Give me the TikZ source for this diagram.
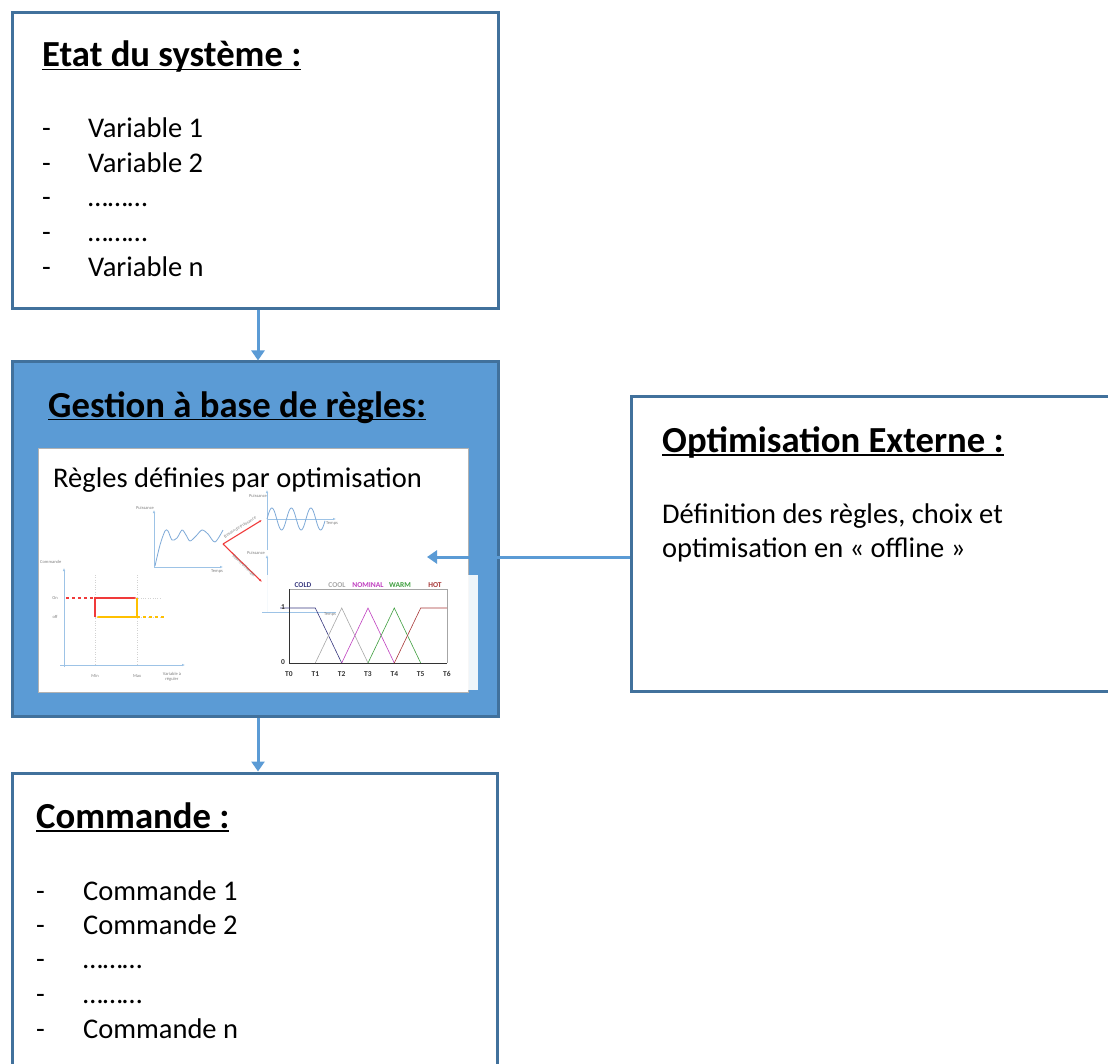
\documentclass[tikz,border=0pt]{standalone}
\usepackage{fontspec}
\setmainfont{Carlito}
\usetikzlibrary{arrows.meta, calc}
\definecolor{boxline}{HTML}{41719C}
\definecolor{fillblue}{HTML}{5B9BD5}
\definecolor{axisblue}{HTML}{9DC3E6}
\definecolor{curveblue}{HTML}{7FAAD8}
\definecolor{redline}{HTML}{F03A3A}
\definecolor{yellowline}{HTML}{FFC000}
\definecolor{coldc}{HTML}{3A3A80}
\definecolor{coolc}{HTML}{A8A8A8}
\definecolor{nominalc}{HTML}{C040C0}
\definecolor{warmc}{HTML}{3F9F3F}
\definecolor{hotc}{HTML}{A83838}
\newcommand{\hdul}[1]{\setbox0\hbox{#1}\rlap{\rule[-3.5pt]{\wd0}{1.8pt}}\box0}

\begin{document}
\begin{tikzpicture}[x=1pt, y=-1pt]
      \tikzset{box/.style = {draw=boxline, line width=3pt, inner sep=0pt}}
      \tikzset{edge/.style = {draw=fillblue, line width=3pt, -{Triangle[width=13pt,length=10pt]}}}
      \tikzset{head/.style = {anchor=base west, inner sep=0pt, font=\fontsize{36.7}{42}\selectfont\bfseries}}
      \tikzset{txt/.style = {anchor=base west, inner sep=0pt, font=\fontsize{28.5}{34}\selectfont}}
      \tikzset{tiny/.style = {inner sep=0pt, text=gray, font=\fontsize{4.5}{5}\selectfont}}
      \tikzset{axis/.style = {draw=axisblue, line width=0.7pt, -{Latex[length=3pt,width=2.5pt]}}}
      \tikzset{guide/.style = {draw=gray!35, line width=0.4pt, dotted}}
      \tikzset{mf/.style = {line width=0.6pt}}
      \tikzset{flab/.style = {inner sep=0pt, font=\fontsize{7.5}{8}\selectfont\bfseries}}
      \useasboundingbox (0,0) rectangle (1108,1064);

      \node[box, fill=white, minimum width=486pt, minimum height=296pt] (etat) at (255, 161) {};
      \node[box, fill=fillblue, minimum width=486pt, minimum height=354pt] (gestion) at (255, 539) {};
      \node[box, fill=white, minimum width=485pt, minimum height=330pt] (commande) at (254.5, 938) {};
      \node[box, fill=white, minimum width=500pt, minimum height=295pt] (optim) at (881, 544) {};

      \node[head] (etathd) at (42, 67) {\hdul{Etat du système :}};
      \node[txt] (var1) at (42, 138) {\makebox[46pt][l]{-}Variable 1};
      \node[txt] (var2) at (42, 173) {\makebox[46pt][l]{-}Variable 2};
      \node[txt] (var3) at (42, 207) {\makebox[46pt][l]{-}………};
      \node[txt] (var4) at (42, 242) {\makebox[46pt][l]{-}………};
      \node[txt] (varn) at (42, 277) {\makebox[46pt][l]{-}Variable n};

      \node[head] (gestionhd) at (48, 417) {\hdul{Gestion à base de règles:}};

      \node[head] (optimhd) at (662, 452) {\hdul{Optimisation Externe :}};
      \node[txt] (optim1) at (662, 523) {Définition des règles, choix et};
      \node[txt] (optim2) at (662, 557) {optimisation en « offline »};

      \node[head] (commandehd) at (36, 828) {\hdul{Commande :}};
      \node[txt] (com1) at (36, 900) {\makebox[47pt][l]{-}Commande 1};
      \node[txt] (com2) at (36, 934) {\makebox[47pt][l]{-}Commande 2};
      \node[txt] (com3) at (36, 968) {\makebox[47pt][l]{-}………};
      \node[txt] (com4) at (36, 1003) {\makebox[47pt][l]{-}………};
      \node[txt] (comn) at (36, 1038) {\makebox[47pt][l]{-}Commande n};

      \node[draw=gray!60, line width=0.8pt, fill=white, minimum width=430pt, minimum height=244pt] (regles) at (253, 570) {};
      \node[txt] (reglestxt) at (53, 487) {Règles définies par optimisation};

      \draw[axis] (64,667) -- (64,568);
      \draw[axis] (60,665) -- (185,665);
      \draw[guide] (95,598) -- (160,598) (95,617) -- (160,617) (95,575) -- (95,665) (137,575) -- (137,665);
      \draw[redline, line width=1.6pt, dashed] (66,598) -- (95,598);
      \draw[redline, line width=1.6pt, -{Latex[length=3pt]}] (95,617) -- (95,598) -- (137,598);
      \draw[yellowline, line width=1.6pt, -{Latex[length=3pt]}] (137,598) -- (137,617) -- (96,617);
      \draw[yellowline, line width=1.6pt, dashed] (137,617) -- (167,617);
      \node[tiny, anchor=west] (hcmd) at (40,562) {Commande};
      \node[tiny] (hon) at (55,598) {On};
      \node[tiny] (hoff) at (55,617) {off};
      \node[tiny] (hmin) at (95,676) {Min};
      \node[tiny] (hmax) at (137,676) {Max};
      \node[tiny, align=center] (hvar) at (172,677) {Variable à\\réguler};

      \draw[axis] (154,567) -- (154,510);
      \draw[axis] (154,567) -- (223,567);
      \draw[curveblue, line width=0.8pt] plot[smooth] coordinates {(155,566) (160,545) (165,531) (168,531) (172,540) (177,538) (182,530) (186,535) (190,541) (196,536) (202,530) (208,534) (215,542) (223,530)};
      \node[tiny] (p1lab) at (145,508) {Puissance};
      \node[tiny] (t1lab) at (217,571) {Temps};

      \draw[redline, line width=1.1pt, -{Latex[length=3pt]}] (223,544) -- (262,520);
      \draw[redline, line width=1.1pt, -{Latex[length=3pt]}] (223,544) -- (262,582);
      \node[tiny, rotate=32] (src1) at (240,527) {Besoin de Puissance};
      \node[tiny, rotate=-44] (src2) at (244,566) {Besoin d'énergie};

      \draw[axis] (267,550) -- (267,490);
      \draw[axis] (267,519) -- (336,519);
      \draw[curveblue, line width=0.8pt, domain=0:58, samples=80] plot ({267+\x}, {519 - 11*sin(18.46*\x)});
      \node[tiny] (p2lab) at (258,496) {Puissance};
      \node[tiny] (t2lab) at (332,523) {Temps};

      \draw[axis] (267,612) -- (267,555);
      \node[tiny] (p3lab) at (256,553) {Puissance};

      \fill[white, opacity=0.9] (262,575) rectangle (478,690);
      \draw[axisblue, line width=0.5pt] (262,612) -- (336,612);
      \node[tiny] (t3lab) at (330,614) {Temps};

      \draw[gray!70, line width=0.6pt] (289,589) -- (447,589) -- (447,663);
      \draw[black!80, line width=0.8pt] (289,589) -- (289,663) -- (447,663);
      \draw[coldc, mf] (280,608) -- (315.3,608) -- (341.7,663);
      \draw[coolc, mf] (315.3,663) -- (341.7,608) -- (368,663);
      \draw[nominalc, mf] (341.7,663) -- (368,608) -- (394.3,663);
      \draw[warmc, mf] (368,663) -- (394.3,608) -- (420.7,663);
      \draw[hotc, mf] (394.3,663) -- (420.7,608) -- (447,608);
      \node[flab, text=coldc] (cold) at (303,585) {COLD};
      \node[flab, text=coolc] (cool) at (337,585) {COOL};
      \node[flab, text=nominalc] (nominal) at (368,585) {NOMINAL};
      \node[flab, text=warmc] (warm) at (400,585) {WARM};
      \node[flab, text=hotc] (hot) at (435,585) {HOT};
      \node[flab, text=black!80] (one) at (283,607) {1};
      \node[flab, text=black!80] (zero) at (283,662) {0};
      \node[flab, text=black!80] (t0) at (289,674) {T0};
      \node[flab, text=black!80] (t1) at (315.3,674) {T1};
      \node[flab, text=black!80] (t2) at (341.7,674) {T2};
      \node[flab, text=black!80] (t3) at (368,674) {T3};
      \node[flab, text=black!80] (t4) at (394.3,674) {T4};
      \node[flab, text=black!80] (t5) at (420.7,674) {T5};
      \node[flab, text=black!80] (t6) at (447,674) {T6};

      \coordinate (tip) at (427,557);
      \draw[edge] ([xshift=3pt]etat.south) to ([xshift=3pt]gestion.north);
      \draw[edge] ([xshift=3pt]gestion.south) to ([xshift=3.5pt]commande.north);
      \draw[edge] (optim.west |- tip) to (tip);
    \end{tikzpicture}
\end{document}
